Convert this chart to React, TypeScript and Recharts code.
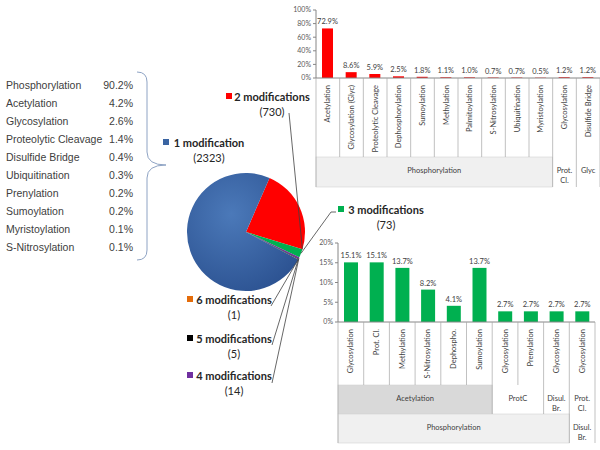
import React from 'react';
import { BarChart, Bar, XAxis, YAxis, LabelList, PieChart, Pie, Cell } from 'recharts';

// breakdown of proteins with 1 modification
const singleNames = ['Phosphorylation', 'Acetylation', 'Glycosylation', 'Proteolytic Cleavage', 'Disulfide Bridge', 'Ubiquitination', 'Prenylation', 'Sumoylation', 'Myristoylation', 'S-Nitrosylation'];
const singleShares = [90.2, 4.2, 2.6, 1.4, 0.4, 0.3, 0.2, 0.2, 0.1, 0.1];

// pie: number of modifications
const pieNames = ['2 modifications', '3 modifications', '4 modifications', '5 modifications', '6 modifications', '1 modification'];
const pieCounts = [730, 73, 14, 5, 1, 2323];

// 2 modifications
const twoModCategories = ['Acetylation', 'Glycosylation (Glyc)', 'Proteolytic Cleavage', 'Dephosphorylation', 'Sumoylation', 'Methylation', 'Palmitoylation', 'S-Nitrosylation', 'Ubiquitination', 'Myristoylation', 'Glycosylation', 'Disulfide Bridge'];
const twoModValues = [72.9, 8.6, 5.9, 2.5, 1.8, 1.1, 1.0, 0.7, 0.7, 0.5, 1.2, 1.2];
const twoModGroups = ['Phosphorylation', 'Prot.\nCl.', 'Glyc'];
const twoModGroupSpans = [10, 1, 1];
const twoModTicks = [0, 20, 40, 60, 80, 100];

// 3 modifications
const threeModCategories = ['Glycosylation', 'Prot. Cl.', 'Methylation', 'S-Nitrosylation', 'Dephospho.', 'Sumoylation', 'Glycosylation', 'Prenylation', 'Glycosylation', 'Glycosylation'];
const threeModValues = [15.1, 15.1, 13.7, 8.2, 4.1, 13.7, 2.7, 2.7, 2.7, 2.7];
const threeModInner = ['Acetylation', 'ProtC', 'Disul.\nBr.', 'Prot.\nCl.'];
const threeModInnerSpans = [6, 2, 1, 1];
const threeModOuter = ['Phosphorylation', 'Disul.\nBr.'];
const threeModOuterSpans = [9, 1];
const threeModTicks = [0, 5, 10, 15, 20];

const pieFills = ['#ff0000', '#00b050', '#7030a0', '#000000', '#e46c0a', 'url(#blueGrad)'];
const pieSquares = ['#ff0000', '#00b050', '#7030a0', '#000000', '#e46c0a', '#3a64a2'];
const groupFills: Record<string, string> = { Acetylation: '#d9d9d9', Phosphorylation: '#f0f0f0' };

const excelFont = 'Lato, "Open Sans", sans-serif';
const textColor = '#404040';
const gridStroke = '#a6a6a6';

const pieData = pieNames.map((name, i) => ({ name, count: pieCounts[i] }));
const twoModData = twoModCategories.map((name, i) => ({ name, value: twoModValues[i] }));
const threeModData = threeModCategories.map((name, i) => ({ name, value: threeModValues[i] }));

// label placement for the pie (name centre, baseline, legend square, leader line start)
const pieLabelLayout = [
  { cx: 272, base: 101, sq: 226, line: [[289, 113]] },
  { cx: 386, base: 214, sq: 338, line: [[336, 212], [331, 212]] },
  { cx: 234, base: 380, sq: 187, line: [[272, 383]] },
  { cx: 234, base: 343, sq: 187, line: [[272, 345]] },
  { cx: 234, base: 304, sq: 187, line: [[271, 306]] },
  { cx: 209, base: 147, sq: 163, line: null as number[][] | null },
];

const RAD = Math.PI / 180;

function renderPieLabel(p: any) {
  const L = pieLabelLayout[p.index];
  const ang = p.index === 0 && p.endAngle != null ? p.endAngle : p.midAngle;
  const ex = p.cx + p.outerRadius * Math.cos(-ang * RAD);
  const ey = p.cy + p.outerRadius * Math.sin(-ang * RAD);
  return (
    <g key={`pl-${p.index}`}>
      {L.line && (
        <polyline
          points={[...L.line, [ex, ey]].map((pt) => pt.join(',')).join(' ')}
          fill="none"
          stroke="#404040"
          strokeWidth={0.8}
        />
      )}
      <rect x={L.sq} y={L.base - 8} width={6} height={6} fill={pieSquares[p.index]} />
      <text x={L.cx} y={L.base} textAnchor="middle" fontSize={11} fontWeight="bold" fontFamily={excelFont} fill="#262626">
        {pieNames[p.index]}
      </text>
      <text x={L.cx} y={L.base + 15} textAnchor="middle" fontSize={11} fontFamily={excelFont} fill="#262626">
        ({pieCounts[p.index]})
      </text>
    </g>
  );
}

type Level = { names: string[]; spans: number[] };

function groupAt(level: Level, i: number) {
  let start = 0;
  for (let g = 0; g < level.spans.length; g++) {
    if (i < start + level.spans[g]) return { g, start, span: level.spans[g] };
    start += level.spans[g];
  }
  return null;
}

function makeCategoryTick(names: string[], band: number, labelH: number, rowH: number, levels: Level[]) {
  const n = names.length;
  const full = labelH + rowH * levels.length;
  return function CategoryTick(props: any) {
    const { x, y } = props;
    const i: number = props.index ?? props.payload?.index ?? 0;
    const xL = x - band / 2;
    let depth = labelH;
    for (const lv of levels) {
      const gr = groupAt(lv, i);
      if (gr && gr.start === i) depth += rowH;
      else break;
    }
    return (
      <g>
        {levels.map((lv, li) => {
          const gr = groupAt(lv, i);
          if (!gr || gr.start !== i) return null;
          const top = y + labelH + li * rowH;
          const w = gr.span * band;
          const name = lv.names[gr.g];
          const fill = groupFills[name];
          return (
            <g key={li}>
              {fill && <rect x={xL} y={top} width={w} height={rowH} fill={fill} stroke="#d4d4d4" strokeWidth={0.6} />}
              {name.split('\n').map((line, k) => (
                <text key={k} x={xL + w / 2} y={top + 16 + k * 10} textAnchor="middle" fontSize={7.5} fill={textColor} fontFamily={excelFont}>
                  {line}
                </text>
              ))}
            </g>
          );
        })}
        <text
          transform={`rotate(-90 ${x} ${y + 7})`}
          x={x}
          y={y + 7}
          textAnchor="end"
          dominantBaseline="central"
          fontSize={7.5}
          fill={textColor}
          fontFamily={excelFont}
        >
          {names[i]}
        </text>
        <line x1={xL} x2={xL} y1={y} y2={y + depth} stroke={gridStroke} strokeWidth={0.7} />
        {i === n - 1 && <line x1={xL + band} x2={xL + band} y1={y} y2={y + full} stroke={gridStroke} strokeWidth={0.7} />}
      </g>
    );
  };
}

const pct1 = (v: any) => `${Number(v).toFixed(1)}%`;
const axisTick = { fontSize: 7, fill: '#595959', fontFamily: excelFont };

const twoModTick = makeCategoryTick(twoModCategories, (310 - 26) / 12, 79, 30, [
  { names: twoModGroups, spans: twoModGroupSpans },
]);
const threeModTick = makeCategoryTick(threeModCategories, (290 - 28 - 5) / 10, 63, 29, [
  { names: threeModInner, spans: threeModInnerSpans },
  { names: threeModOuter, spans: threeModOuterSpans },
]);

export default function App() {
  return (
    <div style={{ position: 'relative', width: 600, height: 450, background: '#fff', overflow: 'hidden' }}>
      <style>{'body{margin:0}'}</style>

      <div style={{ position: 'absolute', left: 0, top: 0 }}>
        <PieChart width={600} height={450}>
          <defs>
            <radialGradient id="blueGrad" cx="40%" cy="35%" r="75%">
              <stop offset="0%" stopColor="#4b79b9" />
              <stop offset="100%" stopColor="#2b5190" />
            </radialGradient>
          </defs>
          <Pie
            data={pieData}
            dataKey="count"
            nameKey="name"
            cx={241}
            cy={227}
            outerRadius={59}
            startAngle={66.5}
            endAngle={-293.5}
            stroke="none"
            label={renderPieLabel}
            labelLine={false}
            isAnimationActive={false}
          >
            {pieData.map((d, i) => (
              <Cell key={d.name} fill={pieFills[i]} />
            ))}
          </Pie>
        </PieChart>
      </div>

      <svg width={175} height={270} style={{ position: 'absolute', left: 0, top: 0 }}>
        {singleNames.map((name, i) => (
          <g key={name} fontFamily='"Liberation Sans", Arial, sans-serif' fontSize={10.5} fill={textColor}>
            <text x={6} y={89 + i * 18}>{name}</text>
            <text x={133} y={89 + i * 18} textAnchor="end">{singleShares[i].toFixed(1)}%</text>
          </g>
        ))}
        <path
          d="M137 72 Q147 72 147 82 L147 152 Q147 165 166 165 Q147 165 147 178 L147 250 Q147 260 137 260"
          fill="none"
          stroke="#8ea3c4"
          strokeWidth={1}
        />
      </svg>

      <div style={{ position: 'absolute', left: 290, top: 0 }}>
        <BarChart width={310} height={190} data={twoModData} margin={{ top: 10, right: 0, bottom: 0, left: 0 }}>
          <XAxis
            dataKey="name"
            interval={0}
            height={112}
            tickLine={false}
            tickSize={0}
            tickMargin={0}
            axisLine={{ stroke: '#868686' }}
            tick={twoModTick}
          />
          <YAxis
            width={26}
            domain={[0, 100]}
            ticks={twoModTicks}
            tickFormatter={(v) => `${v}%`}
            tick={axisTick}
            tickSize={3}
            axisLine={{ stroke: '#868686' }}
            tickLine={{ stroke: '#868686' }}
          />
          <Bar dataKey="value" fill="#ff0000" barSize={11} isAnimationActive={false}>
            <LabelList dataKey="value" position="top" offset={4} formatter={pct1} style={{ fontSize: 7.5, fill: textColor, fontFamily: excelFont }} />
          </Bar>
        </BarChart>
      </div>

      <div style={{ position: 'absolute', left: 310, top: 233 }}>
        <BarChart width={290} height={212} data={threeModData} margin={{ top: 10, right: 5, bottom: 0, left: 0 }}>
          <XAxis
            dataKey="name"
            interval={0}
            height={123}
            tickLine={false}
            tickSize={0}
            tickMargin={0}
            axisLine={{ stroke: '#868686' }}
            tick={threeModTick}
          />
          <YAxis
            width={28}
            domain={[0, 20]}
            ticks={threeModTicks}
            tickFormatter={(v) => `${v}%`}
            tick={axisTick}
            tickSize={3}
            axisLine={{ stroke: '#868686' }}
            tickLine={{ stroke: '#868686' }}
          />
          <Bar dataKey="value" fill="#00b050" barSize={14} isAnimationActive={false}>
            <LabelList dataKey="value" position="top" offset={4} formatter={pct1} style={{ fontSize: 7.5, fill: textColor, fontFamily: excelFont }} />
          </Bar>
        </BarChart>
      </div>
    </div>
  );
}
